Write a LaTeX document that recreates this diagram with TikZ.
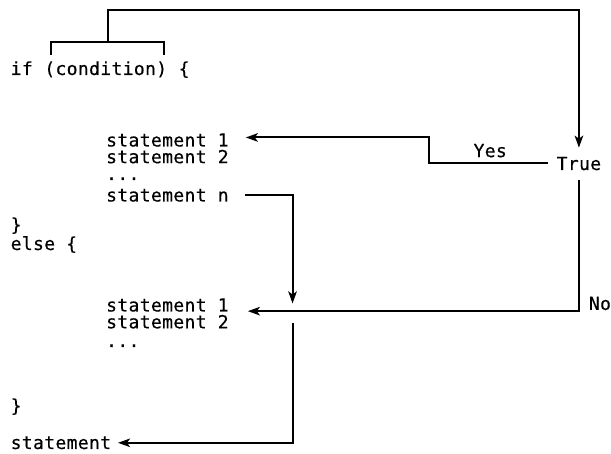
\documentclass[tikz,border=0pt]{standalone}
\usepackage{fontspec}
\newfontfamily\codefont{DejaVu Sans Mono}[LetterSpace=2,FakeBold=0.4]
\usetikzlibrary{arrows.meta,positioning,calc}

\begin{document}
\begin{tikzpicture}[x=1pt,y=1pt,
    code/.style={font=\codefont\fontsize{18}{18}\selectfont,inner sep=0pt,anchor=base west},
    wire/.style={line width=2pt},
    flow/.style={wire,-{Stealth[length=12pt,width=8.5pt,inset=3pt]}}]
  \useasboundingbox (0,0) rectangle (611,-454);
  \node[code] (kwif) at (10.5,-75) {if};
  \node[code,base right=11.2pt of kwif] (cond) {(condition)};
  \node[code,base right=11.2pt of cond] (obr) {\{};
  \foreach \nm/\x/\y/\t in {s1/106/146.5/statement 1, s2/106/163.2/statement 2,
      sn/106/201.5/statement n, cb1/10.5/231/\}, els/10.5/250/else \{,
      e1/106/311.5/statement 1, e2/106/328.3/statement 2,
      cb2/10.5/412/\}, stmt/10.5/449/statement}
    \node[code] (\nm) at (\x,-\y) {\t};
  \node[code] (d1) at (106,-180) {...};
  \node[code] (d2) at (106,-347) {...};
  \node[code] (true) at (556.5,-170) {True};

  \coordinate (cright) at ([xshift=-3pt]cond.east);
  \draw[wire] ([xshift=6.6pt,yshift=6.3pt]cond.north west) -- ++(0,13) coordinate (bl)
    -- (bl -| cright) coordinate (br) -- ++(0,-13);
  \draw[flow,shorten >=9pt] ($(bl)!.5!(br)$) -- ++(0,32) -| (true);
  \draw[flow,shorten <=8.5pt] ([yshift=.7pt]true.west)
    -- node[code,pos=.52,above=4.5pt] (yes) {Yes} ++(-127.5,0)
    |- ([xshift=17pt,yshift=2.6pt]s1.east);
  \coordinate (e1in) at ([xshift=19pt,yshift=-6.1pt]e1.east);
  \draw[flow,shorten <=10pt] (true) |- node[code,pos=.5,anchor=south west,xshift=9pt] (no) {No} (e1in);
  \draw[flow,shorten >=7.7pt] ([xshift=16pt]sn.east) -- ++(47.7,0) coordinate (nturn)
    -- (nturn |- e1in);
  \draw[flow,shorten <=12.3pt] (nturn |- e1in) |- ([xshift=6.7pt]stmt.east);
\end{tikzpicture}
\end{document}
